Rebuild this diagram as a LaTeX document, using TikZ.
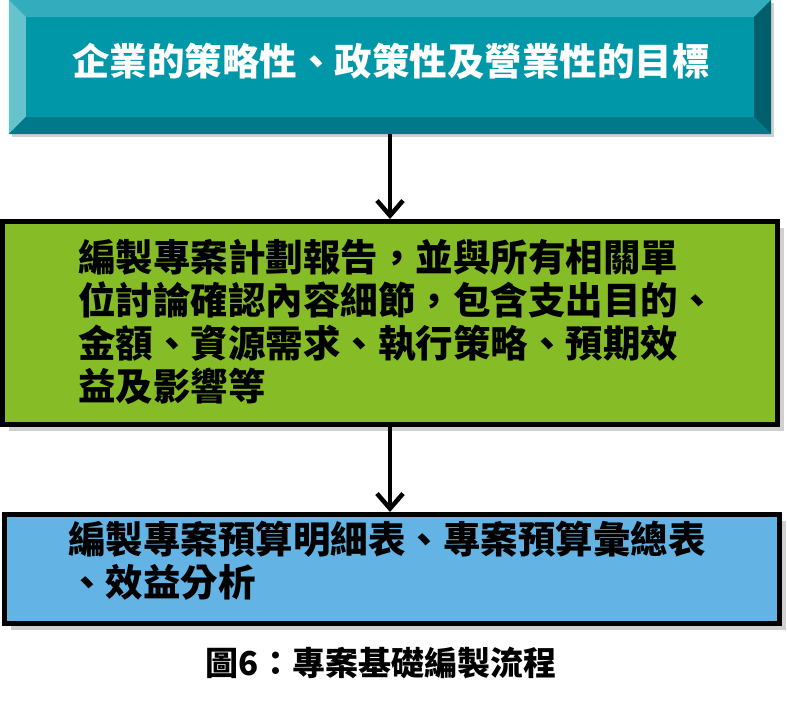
\documentclass[tikz,border=0pt]{standalone}
\usepackage{fontspec}
\newfontfamily\cjk{Noto Sans CJK TC}
\usetikzlibrary{arrows.meta,shadows,calc}
\definecolor{goalface}{RGB}{0,151,168}
\definecolor{goaltop}{RGB}{51,172,189}
\definecolor{goalleft}{RGB}{102,194,204}
\definecolor{goalright}{RGB}{0,95,106}
\definecolor{goalbottom}{RGB}{0,121,138}
\definecolor{planfill}{RGB}{134,188,37}
\definecolor{budgetfill}{RGB}{99,180,228}
\definecolor{boxshadow}{RGB}{208,208,208}
\tikzset{>/.tip={Straight Barb[length=15pt,width=26pt,line width=4.5pt]},
  flowbox/.style={draw=black, line width=5pt, inner sep=0pt,
    drop shadow={shadow xshift=6pt, shadow yshift=-6pt, fill=boxshadow, opacity=1}},
  flowtext/.style={inner sep=0pt, align=left, font=\cjk\bfseries\fontsize{37.5}{43}\selectfont}}

\begin{document}
\begin{tikzpicture}[x=1pt, y=-1pt]
\useasboundingbox (0,0) rectangle (787,706);

\node[fill=goalface, minimum width=762pt, minimum height=134pt, inner sep=0pt,
  drop shadow={shadow xshift=3pt, shadow yshift=-3pt, fill=boxshadow, opacity=1}] (goal) at (390,67) {};
\fill[goaltop] (goal.north west) -- (goal.north east) -- ($(goal.north east)+(-17,17)$) -- ($(goal.north west)+(17,17)$) -- cycle;
\fill[goalleft] (goal.north west) -- ($(goal.north west)+(17,17)$) -- ($(goal.south west)+(17,-17)$) -- (goal.south west) -- cycle;
\fill[goalright] (goal.north east) -- (goal.south east) -- ($(goal.south east)+(-17,-17)$) -- ($(goal.north east)+(-17,17)$) -- cycle;
\fill[goalbottom] (goal.south west) -- (goal.south east) -- ($(goal.south east)+(-17,-17)$) -- ($(goal.south west)+(17,-17)$) -- cycle;
\node[flowtext, text=white] (goalText) at (391,61) {企業的策略性、政策性及營業性的目標};

\node[flowbox, fill=planfill, minimum width=775pt, minimum height=203pt] (plan) at (390,323) {};
\node[flowtext, anchor=west] (planText) at (78,322) {編製專案計劃報告，並與所有相關單\\位討論確認內容細節，包含支出目的、\\金額、資源需求、執行策略、預期效\\益及影響等};

\node[flowbox, fill=budgetfill, minimum width=775pt, minimum height=109pt] (budget) at (392,569) {};
\node[flowtext, anchor=west] (budgetText) at (68,561) {編製專案預算明細表、專案預算彙總表\\、效益分析};

\node[inner sep=0pt, font=\cjk\bfseries\fontsize{33}{33}\selectfont] (caption) at (381,663) {圖6：專案基礎編製流程};

\draw[->, line width=4.5pt] (goal.south) -- (plan.north);
\draw[->, line width=4.5pt] (plan.south) -- (plan.south |- budget.north);
\end{tikzpicture}
\end{document}
